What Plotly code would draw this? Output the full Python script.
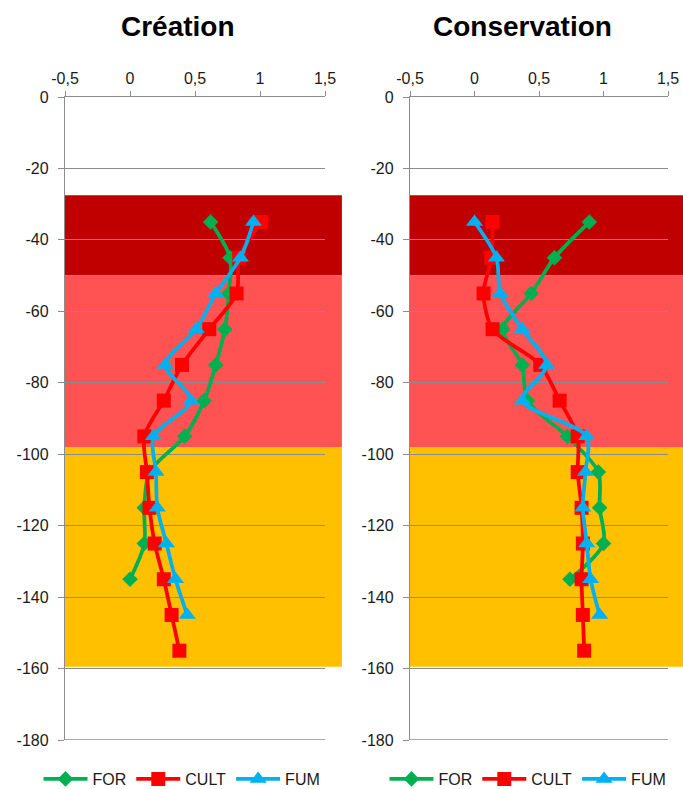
import plotly.graph_objects as go

depths = [-35, -45, -55, -65, -75, -85, -95, -105, -115, -125, -135, -145, -155]

# Création
crea_for = [0.62, 0.77, 0.76, 0.73, 0.66, 0.57, 0.42, 0.15, 0.11, 0.11, 0.0]
crea_cult = [1.01, 0.84, 0.82, 0.61, 0.40, 0.26, 0.11, 0.13, 0.15, 0.19, 0.26, 0.32, 0.38]
crea_fum = [0.95, 0.85, 0.66, 0.51, 0.27, 0.47, 0.18, 0.20, 0.21, 0.28, 0.35, 0.44]

# Conservation
cons_for = [0.89, 0.62, 0.44, 0.22, 0.37, 0.41, 0.72, 0.96, 0.97, 1.0, 0.74]
cons_cult = [0.14, 0.13, 0.07, 0.14, 0.51, 0.66, 0.80, 0.80, 0.83, 0.84, 0.83, 0.84, 0.85]
cons_fum = [0.0, 0.17, 0.20, 0.37, 0.56, 0.37, 0.87, 0.86, 0.84, 0.87, 0.90, 0.97]

titles = ["Création", "Conservation"]
series_names = ["FOR", "CULT", "FUM"]
colors = ["#00B050", "#FF0000", "#00B0F0"]
symbols = ["diamond", "square", "triangle-up"]
msizes = [12, 14, 15]

# horizons (depth bands)
bands = [(-27.5, -50, "#C00000"), (-50, -98, "#FF5353"), (-98, -159.5, "#FFC000")]

x_ticks = [-0.5, 0, 0.5, 1, 1.5]
x_ticktext = ["-0,5", "0", "0,5", "1", "1,5"]
y_ticks = list(range(0, -181, -20))
y_ticktext = [str(v) for v in y_ticks]

FONT = "Liberation Sans, Arial, sans-serif"

W, H = 683, 789


def px(x):
    return x / W


def py(y):
    return (H - y) / H


fig = go.Figure()

panels = [
    (crea_for, crea_cult, crea_fum),
    (cons_for, cons_cult, cons_fum),
]
xdomains = [[px(65), px(325)], [px(410), px(668)]]
ydomain = [py(740), py(97)]

for p, data in enumerate(panels):
    xa = "x" if p == 0 else "x2"
    ya = "y" if p == 0 else "y2"
    lg = "legend" if p == 0 else "legend2"
    for s, vals in enumerate(data):
        fig.add_trace(go.Scatter(
            x=vals, y=depths[:len(vals)],
            mode="lines+markers",
            name=series_names[s],
            line=dict(color=colors[s], width=3.75, shape="spline", smoothing=0.8),
            marker=dict(symbol=symbols[s], size=msizes[s], color=colors[s]),
            xaxis=xa, yaxis=ya, legend=lg,
        ))
    for y0, y1, c in bands:
        fig.add_shape(type="rect", xref=("x domain" if p == 0 else "x2 domain"),
                      yref=ya, x0=0, x1=1.065, y0=y0, y1=y1,
                      fillcolor=c, line=dict(width=0), layer="below")
    # bottom gridline at -180
    fig.add_shape(type="line", xref=("x domain" if p == 0 else "x2 domain"),
                  yref=ya, x0=0, x1=1, y0=y_ticks[-1], y1=y_ticks[-1],
                  line=dict(color="#8C8C8C", width=1.3), layer="below")

axis_common_x = dict(
    range=[-0.5, 1.5], tickvals=x_ticks, ticktext=x_ticktext, side="top",
    showgrid=False, zeroline=False, showline=True, linecolor="#8C8C8C", linewidth=1.3,
    ticks="outside", ticklen=5, tickcolor="#8C8C8C",
    tickfont=dict(family=FONT, size=16, color="#1a1a1a"),
)
axis_common_y = dict(
    range=[-180, 0], tickvals=y_ticks, ticktext=y_ticktext,
    showgrid=True, gridcolor="#8C8C8C", gridwidth=1.3, zeroline=False,
    showline=True, linecolor="#8C8C8C", linewidth=1.3,
    ticks="outside", ticklen=6, tickcolor="#8C8C8C",
    tickfont=dict(family=FONT, size=16, color="#1a1a1a"),
    ticklabelstandoff=6,
    domain=ydomain,
)

xa1 = dict(axis_common_x); xa1.update(domain=xdomains[0], anchor="y")
xa2 = dict(axis_common_x); xa2.update(domain=xdomains[1], anchor="y2")
ya1 = dict(axis_common_y); ya1.update(anchor="x")
ya2 = dict(axis_common_y); ya2.update(anchor="x2")

legend_common = dict(
    orientation="h", yanchor="middle", y=py(779), xanchor="center",
    font=dict(family=FONT, size=16, color="#1a1a1a"),
    bgcolor="rgba(0,0,0,0)", itemwidth=44, tracegroupgap=0,
)
lg1 = dict(legend_common); lg1.update(x=px(182))
lg2 = dict(legend_common); lg2.update(x=px(528))

annotations = []
for p, t in enumerate(titles):
    cx = [178, 522][p]
    annotations.append(dict(
        text="<b>%s</b>" % t, x=px(cx), y=py(27), xref="paper", yref="paper",
        xanchor="center", yanchor="middle", showarrow=False,
        font=dict(family=FONT, size=28, color="#000000"),
    ))

fig.update_layout(
    width=W, height=H,
    margin=dict(l=0, r=0, t=0, b=0, autoexpand=False),
    paper_bgcolor="white", plot_bgcolor="white",
    xaxis=xa1, xaxis2=xa2, yaxis=ya1, yaxis2=ya2,
    legend=lg1, legend2=lg2,
    annotations=annotations,
    showlegend=True,
)

fig.write_html("out.html",
               config={"displayModeBar": False},
               post_script="document.body.style.margin='0';document.body.style.overflow='hidden';")
